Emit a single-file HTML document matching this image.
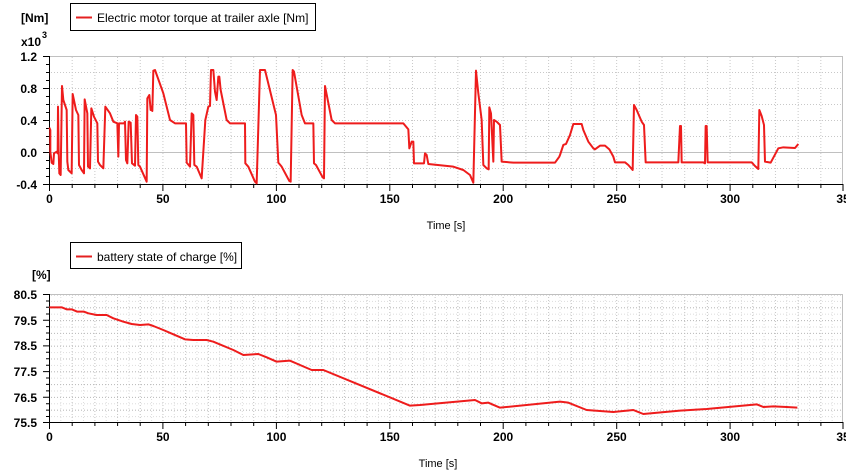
<!DOCTYPE html>
<html><head><meta charset="utf-8"><style>
html,body{margin:0;padding:0;background:#fff;}
svg{display:block;font-family:"Liberation Sans",sans-serif;}
</style></head><body>
<svg width="846" height="476" viewBox="0 0 846 476" xmlns="http://www.w3.org/2000/svg">
<defs>
<pattern id="gv1" x="49" y="0" width="22.686" height="476" patternUnits="userSpaceOnUse"><line x1="0.5" y1="0" x2="0.5" y2="476" stroke="#c8c8c8" stroke-dasharray="1,2"/></pattern>
<pattern id="gh1" x="0" y="56" width="846" height="16" patternUnits="userSpaceOnUse"><line x1="0" y1="0.5" x2="846" y2="0.5" stroke="#c8c8c8" stroke-dasharray="1,2"/></pattern>
<pattern id="gv2" x="49" y="0" width="11.343" height="476" patternUnits="userSpaceOnUse"><line x1="0.5" y1="0" x2="0.5" y2="476" stroke="#dcdcdc" stroke-dasharray="1,2"/></pattern>
<pattern id="gh2" x="0" y="294.5" width="846" height="6.4" patternUnits="userSpaceOnUse"><line x1="0" y1="0.5" x2="846" y2="0.5" stroke="#dcdcdc" stroke-dasharray="1,2"/></pattern>
<pattern id="gh2b" x="0" y="294.5" width="846" height="12.8" patternUnits="userSpaceOnUse"><line x1="0" y1="0.5" x2="846" y2="0.5" stroke="#bbb" stroke-dasharray="1,2"/></pattern>
</defs>

<!-- TOP PLOT -->
<rect x="49" y="56" width="794" height="128" fill="url(#gv1)"/>
<rect x="49" y="56" width="794" height="128" fill="url(#gh1)"/>
<line x1="49" y1="56.5" x2="843" y2="56.5" stroke="#c0c0c0"/>
<line x1="49" y1="152.5" x2="843" y2="152.5" stroke="#c0c0c0"/>
<line x1="842.5" y1="56" x2="842.5" y2="184" stroke="#c0c0c0"/>
<g stroke="#000">
<line x1="49.5" y1="56" x2="49.5" y2="184"/>
<line x1="49" y1="184.5" x2="843" y2="184.5"/>
</g>
<g stroke="#000">
<path d="M43 56.5h6M43 88.5h6M43 120.5h6M43 152.5h6M43 184.5h6M46 64.5h3M46 72.5h3M46 80.5h3M46 96.5h3M46 104.5h3M46 112.5h3M46 128.5h3M46 136.5h3M46 144.5h3M46 160.5h3M46 168.5h3M46 176.5h3"/>
</g>
<g stroke="#000">
<path d="M49.5 184v7M162.9 184v7M276.4 184v7M389.8 184v7M503.2 184v7M616.7 184v7M730.1 184v7M843 184v7M72.2 184v4M94.9 184v4M117.6 184v4M140.2 184v4M185.6 184v4M208.3 184v4M231 184v4M253.7 184v4M299 184v4M321.7 184v4M344.4 184v4M367.1 184v4M412.5 184v4M435.2 184v4M457.8 184v4M480.5 184v4M525.9 184v4M548.6 184v4M571.3 184v4M594 184v4M639.4 184v4M662 184v4M684.7 184v4M707.4 184v4M752.8 184v4M775.5 184v4M798.2 184v4M820.9 184v4"/>
</g>
<g font-size="12" font-weight="bold" fill="#000" text-anchor="end">
<text x="37" y="61">1.2</text><text x="37" y="93">0.8</text><text x="37" y="125">0.4</text><text x="37" y="157">0.0</text><text x="37" y="189">-0.4</text>
</g>
<text x="21" y="22" font-size="12" font-weight="bold">[Nm]</text>
<text x="21" y="46" font-size="12" font-weight="bold">x10</text><text x="42" y="38" font-size="9" font-weight="bold">3</text>
<g font-size="12" font-weight="bold" text-anchor="middle">
<text x="49.5" y="203">0</text><text x="162.9" y="203">50</text><text x="276.4" y="203">100</text><text x="389.8" y="203">150</text><text x="503.2" y="203">200</text><text x="616.7" y="203">250</text><text x="730.1" y="203">300</text><text x="843" y="203">35</text>
</g>
<text x="446" y="229" font-size="11" text-anchor="middle">Time [s]</text>
<rect x="70.5" y="3.5" width="245" height="27" fill="#fff" stroke="#000"/>
<line x1="76" y1="17.5" x2="92" y2="17.5" stroke="#e42020" stroke-width="2"/>
<text x="97" y="22" font-size="12">Electric motor torque at trailer axle [Nm]</text>

<g transform="scale(0.33333)" fill="none" stroke="#ee1c1c" stroke-width="6" stroke-linejoin="round">
<polyline points="148,383 151,390 151,455 155,488 160,492 162,460 170,455 173,460 174,320 176,455 178,520 182,525 186,258 190,300 200,330 202,485 205,510 215,520 218,282 228,330 235,345 237,495 245,510 252,520 254,298 262,340 264,500 270,505 274,325 282,350 292,370 294,485 300,495 310,505 316,320 330,340 340,365 352,370 355,470 357,370 372,370 375,365 378,480 382,490 386,365 392,368 396,490 405,497 408,345 412,350 415,495 420,500 440,545 442,295 448,285 452,330 454,320 457,333 460,212 465,210 490,280 510,360 525,370 558,370 560,488 570,500 575,340 580,345 583,495 590,500 605,535 616,360 625,320 630,318 633,210 640,210 645,275 650,300 655,230 658,230 662,270 680,360 690,370 735,370 736,490 745,500 765,545 770,550 780,210 795,210 828,345 835,488 845,500 868,543 872,545 878,210 882,215 905,345 915,370 940,370 942,490 948,495 968,532 972,535 975,258 995,360 1005,370 1210,370 1225,388 1228,445 1235,425 1240,425 1242,490 1272,490 1275,460 1280,465 1285,492 1360,500 1390,510 1410,525 1420,548 1428,212 1435,280 1445,360 1450,495 1460,505 1466,508 1468,322 1473,340 1480,485 1482,360 1490,365 1500,375 1505,485 1540,488 1665,488 1678,470 1680,465 1690,435 1698,432 1710,405 1720,372 1745,372 1750,390 1765,425 1780,445 1785,448 1800,437 1815,437 1828,448 1840,470 1845,487 1875,487 1885,495 1898,510 1902,315 1910,330 1925,365 1932,375 1937,487 2035,487 2040,378 2043,378 2045,487 2110,487 2115,490 2117,378 2120,378 2123,487 2255,487 2265,498 2275,507 2278,330 2285,348 2292,375 2295,485 2312,488 2335,445 2350,442 2385,444 2395,432"/>
</g>

<!-- BOTTOM PLOT -->
<rect x="49" y="294.5" width="794" height="128" fill="url(#gv2)"/>
<rect x="49" y="294.5" width="794" height="128" fill="url(#gh2)"/>
<rect x="49" y="294.5" width="794" height="128" fill="url(#gv1)"/>
<rect x="49" y="294.5" width="794" height="128" fill="url(#gh2b)"/>
<line x1="49" y1="294.5" x2="843" y2="294.5" stroke="#c0c0c0"/>
<line x1="842.5" y1="294" x2="842.5" y2="422" stroke="#c0c0c0"/>
<g stroke="#000">
<line x1="49.5" y1="294" x2="49.5" y2="422.5"/>
<line x1="49" y1="422.5" x2="843" y2="422.5"/>
<path d="M43 294.5h6M43 320.2h6M43 345.9h6M43 371.6h6M43 397.3h6M43 422.5h6M46 307.3h3M46 333h3M46 358.7h3M46 384.4h3M46 410.1h3M46 301h3M46 314h3M46 326.6h3M46 339.4h3M46 352.3h3M46 365.2h3M46 378h3M46 390.9h3M46 403.7h3M46 416.5h3"/>
<path d="M49.5 422v7M162.9 422v7M276.4 422v7M389.8 422v7M503.2 422v7M616.7 422v7M730.1 422v7M843 422v7M72.2 422v4M94.9 422v4M117.6 422v4M140.2 422v4M185.6 422v4M208.3 422v4M231 422v4M253.7 422v4M299 422v4M321.7 422v4M344.4 422v4M367.1 422v4M412.5 422v4M435.2 422v4M457.8 422v4M480.5 422v4M525.9 422v4M548.6 422v4M571.3 422v4M594 422v4M639.4 422v4M662 422v4M684.7 422v4M707.4 422v4M752.8 422v4M775.5 422v4M798.2 422v4M820.9 422v4"/>
</g>
<g font-size="12" font-weight="bold" text-anchor="end">
<text x="37" y="299">80.5</text><text x="37" y="325">79.5</text><text x="37" y="350">78.5</text><text x="37" y="376">77.5</text><text x="37" y="402">76.5</text><text x="37" y="427">75.5</text>
</g>
<text x="32" y="279" font-size="12" font-weight="bold">[%]</text>
<g font-size="12" font-weight="bold" text-anchor="middle">
<text x="49.5" y="441">0</text><text x="162.9" y="441">50</text><text x="276.4" y="441">100</text><text x="389.8" y="441">150</text><text x="503.2" y="441">200</text><text x="616.7" y="441">250</text><text x="730.1" y="441">300</text><text x="843" y="441">35</text>
</g>
<text x="438" y="467" font-size="11" text-anchor="middle">Time [s]</text>
<rect x="70.5" y="242.5" width="171" height="26" fill="#fff" stroke="#000"/>
<line x1="76" y1="256.5" x2="92" y2="256.5" stroke="#e42020" stroke-width="2"/>
<text x="97" y="261" font-size="12">battery state of charge [%]</text>

<g transform="scale(0.33333)" fill="none" stroke="#ee1c1c" stroke-width="6" stroke-linejoin="round">
<polyline points="148,922 185,922 200,928 215,928 232,935 252,935 265,940 290,945 320,945 340,955 370,965 395,972 420,975 445,973 460,978 490,990 520,1003 555,1018 580,1020 620,1020 640,1025 700,1050 730,1065 775,1062 800,1072 830,1085 870,1082 900,1095 935,1110 970,1110 1230,1217 1260,1215 1425,1200 1445,1210 1465,1208 1500,1223 1680,1205 1705,1208 1760,1230 1840,1236 1900,1230 1930,1242 2040,1232 2120,1227 2270,1213 2290,1221 2320,1219 2360,1221 2392,1223"/>
</g>
</svg>
</body></html>
